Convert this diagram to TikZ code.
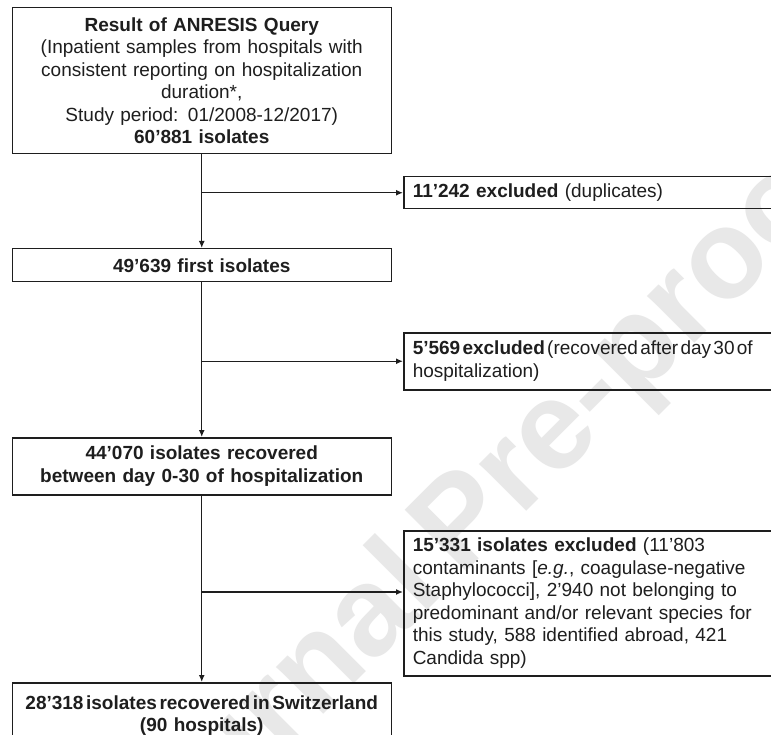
\documentclass[tikz,border=0pt]{standalone}
\usepackage{fontspec}
\setmainfont[WordSpace=0.6]{Liberation Sans}
\usetikzlibrary{arrows.meta}
\definecolor{ink}{HTML}{1E1E1E}
\newcommand{\tightsp}{\spaceskip=0.12em plus 0.05em\relax}
\begin{document}
\begin{tikzpicture}[x=1pt,y=-1pt,
  every node/.style={font=\fontsize{19}{22.5}\selectfont, text=ink},
  mainbox/.style={draw=ink, line width=1.5pt, anchor=north west, inner xsep=0pt, inner ysep=0pt, align=center, text width=379pt},
  sidebox/.style={draw=ink, line width=1.5pt, anchor=north west, inner xsep=9pt, inner ysep=0pt, align=left, text width=400pt},
  conn/.style={draw=ink, line width=1.3pt, -{Latex[length=7pt,width=6pt]}},
  wm/.style={text=black!9, font=\fontsize{126}{126}\selectfont\bfseries, rotate=45}
]
\useasboundingbox (0,0) rectangle (771,735);
\fill[white] (0,0) rectangle (771,735);
% watermark
\node[wm] (wmark) at (470,522) {Journal Pre-proof};

% main column
\node[mainbox, minimum height=146pt] (b1) at (11.5,7) {\textbf{Result of ANRESIS Query}\\(Inpatient samples from hospitals with\\consistent reporting on hospitalization\\duration*,\\Study period: 01/2008-12/2017)\\\textbf{60'881 isolates}};
\node[mainbox, minimum height=33pt] (b2) at (11.5,248) {\textbf{49'639 first isolates}};
\node[mainbox, minimum height=57pt] (b3) at (11.5,437) {\textbf{44'070 isolates recovered}\\\textbf{between day 0-30 of hospitalization}};
\node[mainbox, minimum height=66pt] (b4) at (11.5,682) {\textbf{\tightsp 28'318 isolates recovered in Switzerland}\\\textbf{(90 hospitals)}};

% exclusion boxes
\node[sidebox, minimum height=32pt] (e1) at (403,176) {\textbf{11'242 excluded} (duplicates)};
\node[sidebox, minimum height=57pt] (e2) at (403,332) {{\tightsp\textbf{5'569 excluded} (recovered after day 30 of}\\hospitalization)};
\node[sidebox, minimum height=145pt] (e3) at (403,530) {\textbf{15'331 isolates excluded} (11'803\\contaminants [\textit{e.g.}, coagulase-negative\\Staphylococci], 2'940 not belonging to\\predominant and/or relevant species for\\this study, 588 identified abroad, 421\\Candida spp)};

% vertical connectors
\draw[conn] (b1.south) -- (b2.north);
\draw[conn] (b2.south) -- (b3.north);
\draw[conn] (b3.south) -- (b4.north);

% branch points and exclusion arrows
\coordinate (j1) at (b1.south |- e1.west);
\coordinate (j2) at (b1.south |- e2.west);
\coordinate (j3) at (201,592);
\draw[conn] (j1) -- (e1.west);
\draw[conn] (j2) -- (e2.west);
\draw[conn] (j3) -- (j3 -| e3.west);
\end{tikzpicture}
\end{document}
